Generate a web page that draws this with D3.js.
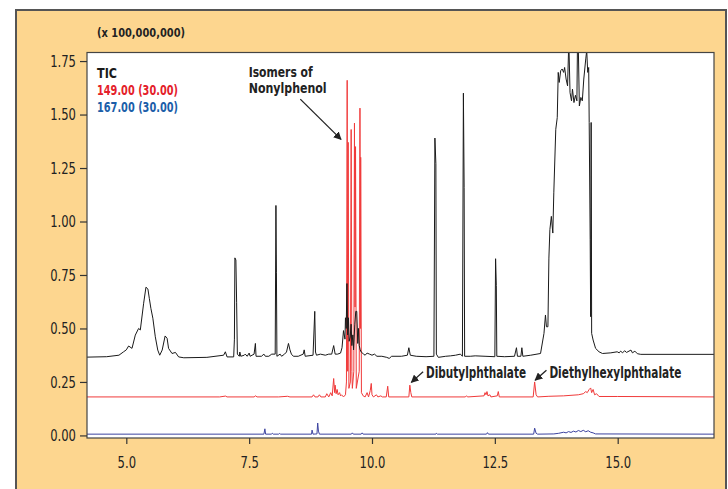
<!DOCTYPE html>
<html>
<head>
<meta charset="utf-8">
<script src="https://cdn.jsdelivr.net/npm/d3@7"></script>
<style>
  body { margin: 0; background: #fff; }
  svg text { font-family: 'DejaVu Sans Condensed', 'DejaVu Sans', sans-serif; }
</style>
</head>
<body>
<script>
// retention time (min), intensity (x 100,000,000)
const ticData = [
  [4.20,0.366],[4.60,0.368],[4.85,0.375],[4.945,0.391],[5.0,0.40],[5.047,0.418],[5.116,0.407],
  [5.183,0.469],[5.25,0.50],[5.285,0.493],[5.353,0.618],[5.40,0.693],[5.44,0.684],[5.468,0.641],
  [5.50,0.594],[5.54,0.548],[5.59,0.461],[5.64,0.399],[5.68,0.375],[5.73,0.399],[5.79,0.465],
  [5.83,0.454],[5.86,0.407],[5.93,0.383],[6.0,0.388],[6.065,0.367],[6.17,0.363],[6.64,0.365],
  [6.98,0.375],[7.016,0.391],[7.05,0.367],[7.185,0.367],[7.20,0.45],[7.21,0.83],[7.23,0.82],
  [7.245,0.62],[7.26,0.38],[7.30,0.37],[7.31,0.39],[7.33,0.37],[7.40,0.375],[7.42,0.38],
  [7.46,0.37],[7.50,0.385],[7.52,0.37],[7.60,0.38],[7.627,0.43],[7.64,0.37],[7.75,0.37],
  [7.80,0.38],[7.83,0.37],[7.90,0.37],[7.96,0.38],[8.03,0.38],[8.045,1.075],[8.055,0.76],
  [8.065,0.37],[8.13,0.38],[8.16,0.37],[8.22,0.38],[8.26,0.39],[8.30,0.43],[8.33,0.40],
  [8.36,0.38],[8.40,0.37],[8.50,0.37],[8.60,0.38],[8.62,0.40],[8.64,0.37],[8.80,0.375],
  [8.835,0.58],[8.85,0.39],[8.87,0.375],[8.95,0.38],[9.05,0.375],[9.12,0.38],[9.18,0.38],
  [9.22,0.42],[9.25,0.38],[9.30,0.38],[9.36,0.385],[9.39,0.41],[9.42,0.49],[9.45,0.45],
  [9.46,0.55],[9.475,0.50],[9.49,0.71],[9.505,0.47],[9.52,0.55],[9.535,0.44],[9.556,0.46],
  [9.575,0.52],[9.59,0.42],[9.61,0.47],[9.625,0.40],[9.65,0.52],[9.67,0.58],[9.69,0.58],
  [9.71,0.43],[9.725,0.50],[9.74,0.42],[9.76,0.40],[9.78,0.39],[9.83,0.38],[9.86,0.375],
  [9.90,0.385],[9.95,0.38],[10.0,0.375],[10.05,0.38],[10.1,0.37],[10.2,0.37],[10.3,0.365],
  [10.35,0.36],[10.4,0.37],[10.6,0.37],[10.72,0.375],[10.75,0.41],[10.78,0.375],[10.9,0.37],
  [11.1,0.368],[11.26,0.37],[11.28,1.39],[11.30,1.27],[11.31,0.38],[11.35,0.365],[11.5,0.37],
  [11.6,0.372],[11.7,0.375],[11.8,0.38],[11.84,0.37],[11.86,1.60],[11.875,1.16],[11.885,0.37],
  [12.0,0.37],[12.1,0.372],[12.3,0.37],[12.5,0.368],[12.515,0.826],[12.53,0.70],[12.54,0.37],
  [12.7,0.368],[12.9,0.37],[12.94,0.41],[12.96,0.37],[13.03,0.37],[13.05,0.41],[13.07,0.37],
  [13.23,0.375],[13.43,0.383],[13.50,0.477],[13.53,0.563],[13.55,0.508],[13.58,0.508],
  [13.60,0.829],[13.62,0.962],[13.65,1.024],[13.68,0.946],[13.70,1.134],[13.74,1.431],
  [13.77,1.486],[13.79,1.697],[13.81,1.65],[13.84,1.705],[13.87,1.713],[13.90,1.697],
  [13.92,1.72],[13.95,1.666],[13.98,1.634],[14.00,1.80],[14.01,1.80],[14.03,1.603],
  [14.06,1.564],[14.08,1.619],[14.11,1.556],[14.14,1.59],[14.17,1.564],[14.18,1.80],
  [14.20,1.80],[14.22,1.54],[14.25,1.58],[14.28,1.564],[14.31,1.666],[14.35,1.76],
  [14.37,1.80],[14.39,1.697],[14.41,1.72],[14.42,1.463],[14.44,0.915],[14.45,0.555],
  [14.46,1.463],[14.47,0.477],[14.50,0.446],[14.55,0.407],[14.62,0.391],[14.69,0.383],
  [14.86,0.386],[14.99,0.391],[15.03,0.386],[15.06,0.394],[15.10,0.386],[15.14,0.396],
  [15.18,0.388],[15.27,0.399],[15.30,0.386],[15.35,0.394],[15.40,0.382],[15.47,0.379],
  [16.96,0.379]
];

const ion149Data = [
  [4.2,0.18],[6.9,0.18],[7.02,0.184],[7.05,0.18],[7.6,0.18],[7.63,0.185],[7.66,0.18],
  [8.1,0.18],[8.28,0.183],[8.33,0.18],[8.78,0.18],[8.81,0.19],[8.84,0.18],[8.9,0.18],
  [8.93,0.19],[8.96,0.18],[9.05,0.18],[9.08,0.195],[9.12,0.18],[9.16,0.20],[9.19,0.185],
  [9.22,0.266],[9.24,0.20],[9.25,0.235],[9.27,0.195],[9.29,0.215],[9.31,0.19],[9.34,0.20],
  [9.36,0.185],[9.38,0.19],[9.42,0.18],[9.46,0.19],[9.48,0.25],[9.495,1.66],[9.505,0.30],
  [9.515,1.37],[9.53,0.22],[9.56,0.25],[9.576,1.43],[9.59,0.30],[9.60,0.22],[9.63,0.30],
  [9.643,1.46],[9.655,0.60],[9.665,1.35],[9.68,0.22],[9.74,0.30],[9.755,1.53],[9.765,0.50],
  [9.77,1.30],[9.785,0.20],[9.82,0.185],[9.86,0.18],[9.9,0.20],[9.93,0.18],[9.965,0.21],
  [9.985,0.243],[10.0,0.19],[10.03,0.18],[10.09,0.19],[10.12,0.18],[10.18,0.185],[10.21,0.18],
  [10.29,0.18],[10.32,0.23],[10.34,0.18],[10.75,0.18],[10.77,0.235],[10.79,0.20],[10.81,0.18],
  [11.9,0.18],[11.92,0.185],[11.95,0.18],[12.28,0.185],[12.30,0.20],[12.32,0.19],[12.34,0.205],
  [12.36,0.185],[12.40,0.19],[12.42,0.18],[12.55,0.185],[12.57,0.205],[12.59,0.18],[13.28,0.18],
  [13.31,0.25],[13.34,0.19],[13.37,0.18],[13.6,0.183],[13.9,0.185],[14.2,0.19],[14.3,0.195],
  [14.35,0.205],[14.38,0.20],[14.42,0.215],[14.45,0.222],[14.47,0.20],[14.50,0.215],[14.53,0.19],
  [14.57,0.195],[14.62,0.182],[15.0,0.182],[16.96,0.18]
];

const ion167Data = [
  [4.2,0.006],[7.80,0.006],[7.82,0.031],[7.835,0.006],[7.95,0.006],[7.97,0.01],[7.99,0.006],
  [8.10,0.006],[8.12,0.009],[8.14,0.006],[8.77,0.006],[8.78,0.025],[8.80,0.006],[8.88,0.007],
  [8.895,0.058],[8.91,0.02],[8.93,0.006],[9.58,0.006],[9.6,0.012],[9.62,0.006],[9.78,0.006],
  [9.80,0.012],[9.82,0.006],[11.30,0.006],[11.31,0.01],[11.33,0.006],[12.33,0.006],[12.35,0.013],
  [12.37,0.006],[13.29,0.006],[13.31,0.034],[13.34,0.01],[13.37,0.006],[13.7,0.007],[13.8,0.01],
  [13.9,0.015],[13.95,0.012],[14.0,0.018],[14.05,0.014],[14.1,0.02],[14.15,0.016],[14.2,0.023],
  [14.25,0.018],[14.3,0.024],[14.35,0.017],[14.4,0.022],[14.45,0.015],[14.5,0.012],[14.55,0.007],
  [16.96,0.006]
];

const xTicks = [5.0, 7.5, 10.0, 12.5, 15.0];
const yTicks = [0, 0.25, 0.5, 0.75, 1.0, 1.25, 1.5, 1.75];
const legendLabels = ['TIC', '149.00 (30.00)', '167.00 (30.00)'];

const width = 728;
const height = 489;
const plot = { left: 87, top: 52.5, right: 714, bottom: 438 };

// squeeze text to the condensed widths of the original typeface
function condensed(sel, w) {
  sel.attr('textLength', w).attr('lengthAdjust', 'spacingAndGlyphs');
}
const numWidth = s => s.replace('.', '').length * 7.4 + 3.6;

const svg = d3.select('body')
  .append('svg')
  .attr('width', width)
  .attr('height', height);

// orange frame
svg.append('rect')
  .attr('x', 16).attr('y', 10)
  .attr('width', 710).attr('height', 500)
  .attr('fill', '#fdd68f')
  .attr('stroke', '#555').attr('stroke-width', 2);

svg.append('rect')
  .attr('x', plot.left).attr('y', plot.top)
  .attr('width', plot.right - plot.left).attr('height', plot.bottom - plot.top)
  .attr('fill', '#fff');

const x = d3.scaleLinear().domain([4.2, 16.96]).range([plot.left, plot.right]);
const y = d3.scaleLinear().domain([-0.012, 1.79]).range([plot.bottom, plot.top]);

svg.append('clipPath').attr('id', 'clip')
  .append('rect')
  .attr('x', plot.left).attr('y', plot.top)
  .attr('width', plot.right - plot.left).attr('height', plot.bottom - plot.top);

const line = d3.line().x(d => x(d[0])).y(d => y(d[1]));

const traces = svg.append('g').attr('clip-path', 'url(#clip)');
traces.append('path').datum(ion167Data)
  .attr('d', line).attr('fill', 'none').attr('stroke', '#3c43a0').attr('stroke-width', 1);
traces.append('path').datum(ion149Data)
  .attr('d', line).attr('fill', 'none').attr('stroke', '#f03a3a').attr('stroke-width', 1);
traces.append('path').datum(ticData)
  .attr('d', line).attr('fill', 'none').attr('stroke', '#1a1a1a').attr('stroke-width', 1);

// plot border
svg.append('rect')
  .attr('x', plot.left).attr('y', plot.top)
  .attr('width', plot.right - plot.left).attr('height', plot.bottom - plot.top)
  .attr('fill', 'none').attr('stroke', '#444').attr('stroke-width', 1.2);

const yAxis = svg.append('g')
  .attr('transform', `translate(${plot.left},0)`)
  .call(d3.axisLeft(y).tickValues(yTicks).tickFormat(d3.format('.2f')).tickSize(7).tickPadding(4));
const xAxis = svg.append('g')
  .attr('transform', `translate(0,${plot.bottom})`)
  .call(d3.axisBottom(x).tickValues(xTicks).tickFormat(d3.format('.1f')).tickSize(6).tickPadding(13));

[yAxis, xAxis].forEach(a => {
  a.select('.domain').remove();
  a.selectAll('line').attr('stroke', '#333').attr('stroke-width', 1.2);
  a.selectAll('text').attr('fill', '#222').style('font-size', '16px')
    .each(function() { condensed(d3.select(this), numWidth(this.textContent)); });
});

condensed(svg.append('text')
  .attr('x', 97).attr('y', 37)
  .attr('fill', '#222').style('font-size', '13px').style('font-weight', 'bold')
  .text('(x 100,000,000)'), 88);

// legend
const legendColors = ['#1a1a1a', '#e4202a', '#1b5ea9'];
const legendWidths = [20, 81, 81];
svg.selectAll('.legend')
  .data(legendLabels)
  .enter()
  .append('text')
  .attr('class', 'legend')
  .attr('x', 97)
  .attr('y', (d, i) => 77.5 + i * 17)
  .attr('fill', (d, i) => legendColors[i])
  .attr('textLength', (d, i) => legendWidths[i])
  .attr('lengthAdjust', 'spacingAndGlyphs')
  .style('font-size', '14px').style('font-weight', 'bold')
  .text(d => d);

// annotations
svg.append('defs').append('marker')
  .attr('id', 'arrow')
  .attr('viewBox', '0 0 10 10')
  .attr('refX', 9).attr('refY', 5)
  .attr('markerWidth', 8).attr('markerHeight', 8)
  .attr('markerUnits', 'userSpaceOnUse')
  .attr('orient', 'auto')
  .append('path').attr('d', 'M0,0 L10,5 L0,10 z').attr('fill', '#222');

const notes = [
  { lines: ['Isomers of', 'Nonylphenol'], widths: [64, 78], size: 13.5, tx: 7.49, ty: 1.676, from: [8.54, 1.572], to: [9.37, 1.384] },
  { lines: ['Dibutylphthalate'], widths: [100], size: 15, tx: 11.10, ty: 0.267, from: [11.04, 0.298], to: [10.8, 0.248] },
  { lines: ['Diethylhexylphthalate'], widths: [132], size: 15, tx: 13.61, ty: 0.267, from: [13.55, 0.305], to: [13.32, 0.258] }
];

notes.forEach(n => {
  const t = svg.append('text')
    .attr('x', x(n.tx)).attr('y', y(n.ty))
    .attr('fill', '#222').style('font-size', n.size + 'px').style('font-weight', 'bold');
  n.lines.forEach((s, i) => {
    condensed(t.append('tspan')
      .attr('x', x(n.tx)).attr('y', y(n.ty) + i * 16)
      .text(s), n.widths[i]);
  });
  svg.append('line')
    .attr('x1', x(n.from[0])).attr('y1', y(n.from[1]))
    .attr('x2', x(n.to[0])).attr('y2', y(n.to[1]))
    .attr('stroke', '#222').attr('stroke-width', 1.3)
    .attr('marker-end', 'url(#arrow)');
});
</script>
</body>
</html>
